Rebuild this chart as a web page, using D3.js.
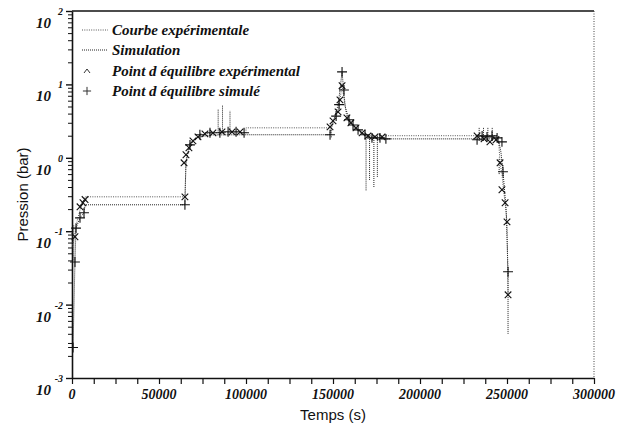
<!DOCTYPE html>
<html>
<head>
<meta charset="utf-8">
<script src="https://cdn.jsdelivr.net/npm/d3@7"></script>
<style>
  body { margin: 0; background: #fff; }
  svg { display: block; }
  .serif { font-family: "Liberation Serif", "DejaVu Serif", serif; font-weight: bold; font-style: italic; }
  .sans { font-family: "Liberation Sans", Arial, sans-serif; }
</style>
</head>
<body>
<svg id="chart" width="628" height="431"></svg>
<script>
// tick labels
const xTicks = [0, 50000, 100000, 150000, 200000, 250000, 300000]
const yMajor = [1e-3, 1e-2, 1e-1, 1, 10, 100]
const yExponents = ['-3', '-2', '-1', '0', '1', '2']

// legend
const legendLabels = ['Courbe expérimentale', 'Simulation', 'Point d équilibre expérimental', 'Point d équilibre simulé']

// Courbe expérimentale (time s, pressure bar)
const expCurveT = [0, 1500, 3000, 5000, 7500, 64900, 65500, 67000, 69500, 72500, 76500, 81000, 100000, 100000, 148000, 150000, 153000, 154000, 155200, 156500, 158000, 160300, 163200, 166700, 170100, 180000, 245000, 246000, 247100, 248000, 248900, 250000, 250600]
const expCurveP = [0.06, 0.085, 0.14, 0.21, 0.294, 0.294, 0.86, 1.3, 1.7, 1.93, 2.1, 2.2, 2.2, 2.56, 2.56, 3.2, 4.2, 6.2, 9.6, 6.0, 3.5, 3.0, 2.56, 2.19, 1.99, 2.0, 2.0, 0.855, 0.6, 0.367, 0.244, 0.134, 0.0136]

// Simulation
const simT = [600, 1700, 2300, 4600, 6900, 7500, 64900, 65500, 67800, 72000, 80000, 100000, 148000, 150000, 153000, 155200, 157000, 159200, 162000, 166000, 170000, 180000, 245000, 246500, 247700, 249500, 250600, 250600]
const simP = [0.0026, 0.038, 0.11, 0.152, 0.178, 0.229, 0.229, 0.9, 1.5, 1.9, 2.05, 2.06, 2.06, 3.0, 5.3, 14.8, 5.0, 3.3, 2.6, 2.2, 1.95, 1.81, 1.81, 1.2, 0.645, 0.2, 0.028, 0.004]

// vertical dotted spikes of the simulation (time, low, high)
const spikeT = [1000, 84000, 86500, 90800, 149000, 169000, 171000, 173500, 175500, 234000, 236500, 239000, 241500, 245500]
const spikeLo = [0.04, 2.2, 2.2, 2.2, 1.9, 0.36, 0.5, 0.4, 0.55, 1.7, 1.7, 1.7, 1.7, 0.6]
const spikeHi = [0.12, 4.6, 5.2, 4.4, 2.6, 2.0, 2.0, 2.0, 2.0, 2.6, 2.6, 2.6, 2.6, 1.0]

// Point d équilibre expérimental (x)
const expPtT = [1700, 4600, 6300, 7500, 64900, 64400, 65500, 67200, 69500, 72400, 76400, 81000, 86200, 92000, 96600, 148300, 150000, 152900, 154000, 155200, 158000, 160300, 163200, 166700, 170100, 174100, 178200, 232800, 236800, 240200, 243700, 246000, 247100, 248900, 250000, 250600]
const expPtP = [0.084, 0.215, 0.244, 0.27, 0.294, 0.855, 1.1, 1.37, 1.7, 1.93, 2.12, 2.19, 2.26, 2.26, 2.26, 2.64, 3.19, 4.23, 6.16, 9.6, 3.5, 3.0, 2.56, 2.19, 1.99, 1.93, 1.93, 1.99, 1.81, 1.65, 1.76, 0.855, 0.367, 0.244, 0.134, 0.0136]

// Point d équilibre simulé (+)
const simPtT = [600, 1700, 2300, 4600, 6900, 64900, 67800, 73500, 79300, 85000, 89700, 94300, 98900, 148300, 155200, 156300, 153500, 151800, 159200, 161500, 164400, 168400, 172400, 177000, 180400, 232800, 235700, 238500, 241400, 244300, 247100, 247700, 250600]
const simPtP = [0.0026, 0.038, 0.11, 0.152, 0.178, 0.229, 1.5, 2.06, 2.19, 2.19, 2.26, 2.26, 2.19, 2.06, 14.8, 8.4, 5.3, 3.7, 3.3, 2.8, 2.4, 2.06, 1.87, 1.87, 1.81, 1.76, 1.99, 1.93, 1.99, 1.87, 1.65, 0.645, 0.028]

const margin = { left: 72, right: 34, top: 11, bottom: 53 }
const width = 628
const height = 431

const svg = d3.select('#chart')

const x = d3.scaleLinear()
  .domain([0, 300000])
  .range([margin.left, width - margin.right])

const y = d3.scaleLog()
  .domain([1e-3, 100])
  .range([height - margin.bottom, margin.top])

// frame: solid top, dotted right
svg.append('line')
  .attr('x1', x(0)).attr('x2', x(300000))
  .attr('y1', y(100)).attr('y2', y(100))
  .attr('stroke', '#111').attr('stroke-width', 1.6)
svg.append('line')
  .attr('x1', x(300000)).attr('x2', x(300000))
  .attr('y1', y(100)).attr('y2', y(1e-3))
  .attr('stroke', '#444').attr('stroke-width', 1)
  .attr('stroke-dasharray', '1,1.5')

// x axis
const xAxis = svg.append('g')
  .attr('transform', `translate(0,${y(1e-3)})`)
  .call(d3.axisBottom(x)
    .tickValues(d3.range(0, 300001, 12500))
    .tickSize(6)
    .tickSizeOuter(0)
    .tickFormat(''))
xAxis.select('.domain').attr('stroke', '#111').attr('stroke-width', 1.6)
xAxis.selectAll('.tick line').attr('stroke', '#111').attr('stroke-width', 1.2)

svg.append('g').selectAll('text')
  .data(xTicks)
  .join('text')
  .attr('class', 'serif')
  .attr('x', d => x(d))
  .attr('y', 399)
  .attr('text-anchor', 'middle')
  .attr('font-size', 14)
  .attr('fill', '#111')
  .text(d => d)

// y axis, minor + major ticks
const yMinor = y.ticks().filter(d => !yMajor.includes(d))
const yAxisMinor = svg.append('g')
  .attr('transform', `translate(${x(0)},0)`)
  .call(d3.axisLeft(y).tickValues(yMinor).tickSize(4).tickSizeOuter(0).tickFormat(''))
yAxisMinor.select('.domain').attr('stroke', '#111').attr('stroke-width', 1.6)
yAxisMinor.selectAll('.tick line').attr('stroke', '#111').attr('stroke-width', 1)

const yAxisMajor = svg.append('g')
  .attr('transform', `translate(${x(0)},0)`)
  .call(d3.axisLeft(y).tickValues(yMajor).tickSize(6).tickSizeOuter(0).tickFormat(''))
yAxisMajor.select('.domain').remove()
yAxisMajor.selectAll('.tick line').attr('stroke', '#111').attr('stroke-width', 1.4)

const yLab = svg.append('g').selectAll('g')
  .data(yMajor)
  .join('g')
  .attr('class', 'serif')
  .attr('fill', '#111')
yLab.append('text')
  .attr('x', 51)
  .attr('y', d => y(d) + 17)
  .attr('text-anchor', 'end')
  .attr('font-size', 15)
  .text('10')
yLab.append('text')
  .attr('x', 63)
  .attr('y', d => y(d) + 4)
  .attr('text-anchor', 'end')
  .attr('font-size', 10)
  .text((d, i) => yExponents[i])

// axis titles
svg.append('text')
  .attr('class', 'sans')
  .attr('x', (x(0) + x(300000)) / 2)
  .attr('y', 420)
  .attr('text-anchor', 'middle')
  .attr('font-size', 15)
  .attr('fill', '#111')
  .text('Temps (s)')

svg.append('text')
  .attr('class', 'sans')
  .attr('transform', `translate(28,${(y(100) + y(1e-3)) / 2}) rotate(-90)`)
  .attr('text-anchor', 'middle')
  .attr('font-size', 15)
  .attr('fill', '#111')
  .text('Pression (bar)')

// curves
const line = d3.line()
  .x(d => x(d[0]))
  .y(d => y(d[1]))

const expCurve = d3.zip(expCurveT, expCurveP)
const simCurve = d3.zip(simT, simP)

svg.append('path')
  .datum(expCurve)
  .attr('d', line)
  .attr('fill', 'none')
  .attr('stroke', '#555')
  .attr('stroke-width', 1)
  .attr('stroke-dasharray', '1,1.3')

svg.append('path')
  .datum(simCurve)
  .attr('d', line)
  .attr('fill', 'none')
  .attr('stroke', '#222')
  .attr('stroke-width', 1)
  .attr('stroke-dasharray', '1,1')

svg.append('g').selectAll('line')
  .data(d3.zip(spikeT, spikeLo, spikeHi))
  .join('line')
  .attr('x1', d => x(d[0])).attr('x2', d => x(d[0]))
  .attr('y1', d => y(d[1])).attr('y2', d => y(d[2]))
  .attr('stroke', '#222')
  .attr('stroke-width', 1)
  .attr('stroke-dasharray', '1,1')

// equilibrium points
const times = d3.symbol().type(d3.symbolTimes).size(30)
const plus = d3.symbol().type(d3.symbolPlus).size(34)

svg.append('g').selectAll('path')
  .data(d3.zip(expPtT, expPtP))
  .join('path')
  .attr('transform', d => `translate(${x(d[0])},${y(d[1])})`)
  .attr('d', times)
  .attr('fill', 'none')
  .attr('stroke', '#111')
  .attr('stroke-width', 1.1)

svg.append('g').selectAll('path')
  .data(d3.zip(simPtT, simPtP))
  .join('path')
  .attr('transform', d => `translate(${x(d[0])},${y(d[1])})`)
  .attr('d', plus)
  .attr('fill', 'none')
  .attr('stroke', '#111')
  .attr('stroke-width', 1.1)

// legend
const legend = svg.append('g')
const rowY = [30, 50, 71, 91]

legend.append('line')
  .attr('x1', 82).attr('x2', 108).attr('y1', rowY[0]).attr('y2', rowY[0])
  .attr('stroke', '#555').attr('stroke-dasharray', '1,1.3')
legend.append('line')
  .attr('x1', 82).attr('x2', 108).attr('y1', rowY[1]).attr('y2', rowY[1])
  .attr('stroke', '#222').attr('stroke-dasharray', '1,1')
legend.append('path')
  .attr('d', `M${84},${rowY[2] + 2}L${87},${rowY[2] - 2}L${90},${rowY[2] + 2}`)
  .attr('fill', 'none').attr('stroke', '#333').attr('stroke-width', 1)
legend.append('path')
  .attr('transform', `translate(87,${rowY[3]})`)
  .attr('d', d3.symbol().type(d3.symbolPlus).size(24))
  .attr('fill', 'none').attr('stroke', '#333').attr('stroke-width', 1)

legend.selectAll('text')
  .data(legendLabels)
  .join('text')
  .attr('class', 'serif')
  .attr('x', 112)
  .attr('y', (d, i) => rowY[i] + 5)
  .attr('font-size', 15)
  .attr('fill', '#111')
  .text(d => d)
</script>
</body>
</html>
